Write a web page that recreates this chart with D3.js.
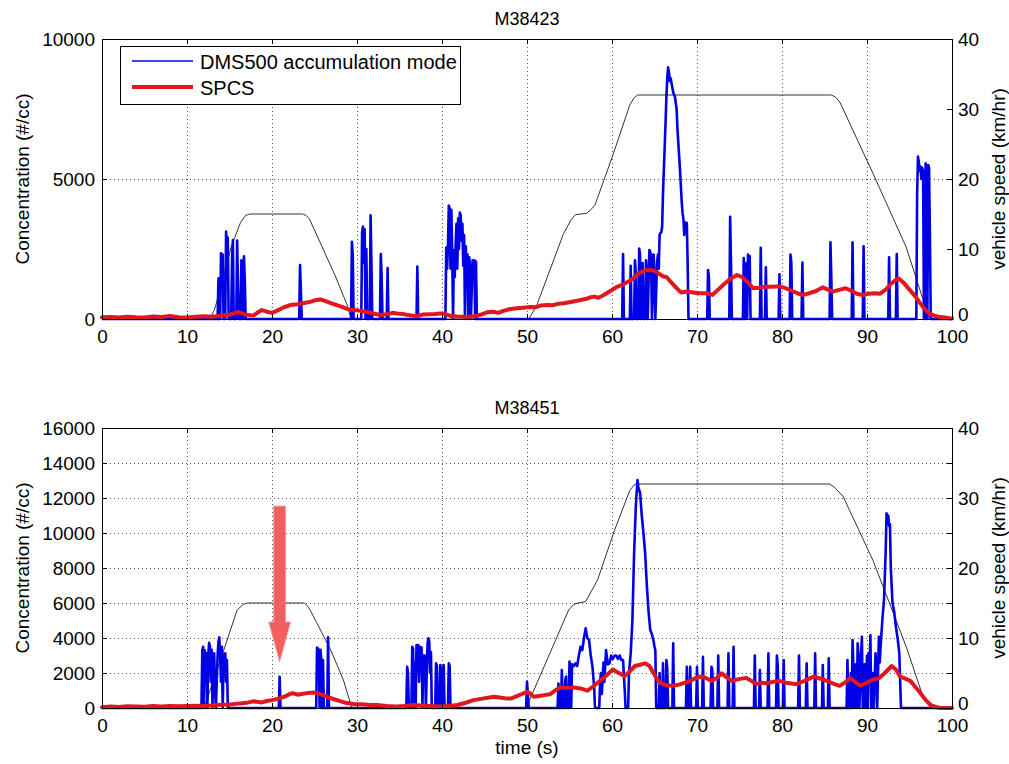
<!DOCTYPE html>
<html>
<head>
<meta charset="utf-8">
<script src="https://cdn.jsdelivr.net/npm/d3@7/dist/d3.min.js"></script>
<style>
  html, body { margin: 0; padding: 0; background: #fff; }
  svg { display: block; }
</style>
</head>
<body>
<script>
// ---------------- DATA ----------------
const titles = ["M38423", "M38451"];
const legendLabels = ["DMS500 accumulation mode", "SPCS"];
const xTicks = [0, 10, 20, 30, 40, 50, 60, 70, 80, 90, 100];
const topLeftTicks = [0, 5000, 10000];
const bottomLeftTicks = [0, 2000, 4000, 6000, 8000, 10000, 12000, 14000, 16000];
const rightTicks = [0, 10, 20, 30, 40];

// [time (s), concentration (#/cc)]
const dmsTop = [
[0,0],[13.6,0],[13.7,1450],[13.8,0],[13.9,0],[14.0,2350],[14.1,1600],[14.2,2300],[14.3,0],[14.5,0],[14.6,3120],[14.7,2550],[14.8,2900],[14.9,0],[15.2,0],[15.3,2200],[15.4,2820],[15.5,0],[15.8,0],[15.9,2800],[16.0,1200],[16.1,0],[16.3,0],[16.4,2100],[16.5,0],[16.6,0],[16.7,2240],[16.8,1400],[16.9,0],
[23.2,0],[23.3,1930],[23.4,1000],[23.5,0],
[29.3,0],[29.4,2760],[29.5,2300],[29.6,0],
[30.5,0],[30.6,3100],[30.7,3300],[30.8,2000],[30.9,3200],[31.0,0],[31.1,2500],[31.2,0],[31.5,0],[31.6,3700],[31.7,2000],[31.8,0],[32.7,0],[32.8,2320],[32.9,1500],[33.0,0],[33.5,0],[33.6,1820],[33.7,0],
[37.0,0],[37.1,1870],[37.2,0],
[40.4,0],[40.5,2550],[40.6,1800],[40.7,2600],[40.8,4050],[40.9,3950],[41.0,1800],[41.1,3900],[41.2,2400],[41.3,0],[41.4,2450],[41.5,1500],[41.6,2600],[41.7,3400],[41.8,1800],[41.9,3600],[42.0,2500],[42.1,3800],[42.2,3700],[42.3,2800],[42.4,3400],[42.5,1900],[42.6,3000],[42.7,0],[42.8,2600],[42.9,1500],[43.0,2300],[43.1,0],[43.2,2200],[43.3,1900],[43.4,0],[43.6,2100],[43.7,1600],[43.8,2100],[43.9,0],[44.0,2050],[44.1,0],
[61.2,0],[61.3,2320],[61.4,0],[62.1,0],[62.2,1900],[62.3,0],[62.6,0],[62.7,2100],[62.8,1600],[62.9,0],[63.1,0],[63.2,2520],[63.3,2300],[63.4,0],[63.6,2000],[63.7,0],[63.9,0],[64.0,2100],[64.1,1700],[64.2,0],[64.4,2460],[64.5,2400],[64.6,2300],[64.7,0],[64.9,2300],[65.0,1500],[65.1,0],[65.3,2000],[65.4,2300],[65.5,1800],[65.6,3000],[65.7,3070],[65.8,3100],[65.9,3300],[66.0,4500],[66.2,6150],[66.3,7000],[66.4,7940],[66.5,8600],[66.6,8990],[66.7,8800],[66.8,8500],[66.9,8600],[67.0,8430],[67.2,8100],[67.4,7940],[67.6,7500],[67.7,6800],[67.8,6300],[68.0,5320],[68.2,4200],[68.3,3780],[68.4,3600],[68.5,3000],[68.6,3450],[68.8,3430],[68.9,2000],[69.0,0],
[71.2,0],[71.3,1750],[71.4,1500],[71.5,0],
[73.8,0],[73.9,3650],[74.0,2000],[74.1,0],
[75.4,0],[75.5,2180],[75.6,0],[75.8,2000],[75.9,0],[76.0,2300],[76.1,1800],[76.2,2250],[76.3,0],
[77.4,0],[77.5,2540],[77.6,0],[78.0,0],[78.1,1850],[78.2,0],
[79.6,0],[79.7,1600],[79.8,0],
[80.9,0],[81.0,2300],[81.1,2000],[81.2,0],
[82.3,0],[82.4,2020],[82.5,0],
[85.6,0],[85.7,2740],[85.8,1500],[85.9,0],
[88.2,0],[88.3,2740],[88.4,0],
[89.5,0],[89.6,2600],[89.7,0],
[92.5,0],[92.6,2200],[92.7,0],
[93.4,0],[93.5,2320],[93.6,0],
[95.8,0],[95.9,4500],[96.0,5800],[96.1,5600],[96.2,5300],[96.3,5450],[96.4,5000],[96.5,5400],[96.6,5300],[96.7,0],[96.8,0],[96.9,5560],[97.0,5300],[97.1,0],[97.2,5500],[97.3,5400],[97.4,3000],[97.5,0],[100,0]
];

const spcsTop = [
[0,60],[1,70],[2,50],[3,80],[4,60],[5,50],[6,90],[7,70],[8,110],[9,60],[10,50],[11,80],[12,100],[13,80],[14,120],[15,150],[16,250],[16.5,200],[17,150],[17.8,120],[18.4,250],[18.8,320],[19.4,260],[20,220],[20.6,300],[21.4,420],[22.2,500],[23,530],[23.8,570],[24.6,620],[25.2,680],[25.7,700],[26.3,640],[27,560],[27.6,500],[28.3,420],[29,340],[29.6,320],[30.2,300],[30.8,270],[31.5,230],[32.2,180],[32.8,140],[33.5,170],[34.2,220],[34.7,200],[35.4,180],[36,140],[36.6,120],[37.1,100],[37.8,160],[38.5,170],[39.2,180],[39.8,200],[40.5,160],[41,110],[41.8,90],[42.5,80],[43.4,80],[44,110],[44.6,160],[45.3,240],[46,260],[46.6,220],[47.3,300],[48.1,360],[48.8,380],[49.5,400],[50.4,430],[51,420],[51.6,480],[52.4,500],[53,490],[53.6,540],[54.3,560],[55,600],[55.7,640],[56.3,680],[57,720],[57.5,780],[57.9,800],[58.4,760],[59,850],[59.8,1000],[60.6,1150],[61.4,1250],[62,1350],[62.5,1450],[63,1600],[63.6,1700],[64.1,1750],[64.8,1740],[65.4,1650],[66,1520],[66.4,1500],[67,1300],[67.6,1100],[68.1,950],[68.8,980],[69.5,950],[70.3,920],[71.2,920],[71.8,860],[72.5,1050],[73.2,1250],[74,1450],[74.7,1570],[75.3,1500],[76,1300],[76.6,1100],[77.3,1120],[78,1150],[78.8,1150],[79.7,1170],[80.4,1100],[81.2,1000],[82,900],[82.5,860],[83.2,920],[84,1000],[84.8,1130],[85.4,1050],[86,980],[86.8,1050],[87.5,1100],[88.2,1000],[88.8,900],[89.5,860],[90.2,900],[90.9,920],[91.5,900],[92.2,1050],[92.8,1250],[93.4,1400],[93.7,1450],[94.3,1300],[95,1050],[95.7,800],[96.3,550],[96.8,350],[97.3,200],[97.9,120],[98.4,80],[99,60],[99.7,30],[100,20]
];

// [time (s), vehicle speed (km/hr)]
const speedTop = [
[0,0],[12.6,0],[13.2,1.2],[13.8,3.7],[15.2,10.3],[16.3,13.8],[16.9,14.8],[17.4,15],[23.6,15],[24.0,14.8],[24.4,14.3],[25.9,10.3],[27.5,6.0],[28.9,1.8],[29.3,0],[50.2,0],[51.1,1.8],[54.3,12.2],[55.2,14.2],[55.7,14.9],[57.0,15.1],[57.5,15.6],[58.0,16.3],[60.1,23.4],[62.1,30.6],[62.6,31.6],[63.0,32],[85.8,32],[86.3,31.7],[86.8,31.0],[90.7,20.8],[94.6,10.3],[97.2,0.5],[97.4,0],[100,0]
];

const dmsBottom = [
[0,0],[11.7,0],[11.8,3300],[11.9,3500],[12.0,0],[12.1,3300],[12.2,2000],[12.3,3120],[12.4,0],[12.5,3000],[12.6,3730],[12.7,3500],[12.8,1500],[12.9,3330],[13.0,0],[13.1,2800],[13.2,3120],[13.3,1000],[13.4,0],[13.6,3000],[13.7,3800],[13.8,4040],[13.9,3000],[14.0,1500],[14.1,3500],[14.2,0],[14.3,2600],[14.4,3100],[14.5,3120],[14.6,1500],[14.7,2740],[14.8,0],
[20.8,0],[20.9,1790],[21.0,0],
[25.2,0],[25.3,3450],[25.4,3400],[25.5,3330],[25.6,0],[25.7,3330],[25.8,2740],[25.9,0],[26.0,2740],[26.1,0],[26.5,0],[26.6,4040],[26.7,0],
[35.8,0],[35.9,2360],[36.0,2000],[36.1,0],[36.4,0],[36.5,3500],[36.6,3400],[36.7,0],[36.8,2600],[36.9,0],[37.0,3600],[37.1,3500],[37.2,3600],[37.3,1500],[37.4,3500],[37.5,2400],[37.6,3450],[37.7,0],[37.8,3000],[37.9,2400],[38.0,3000],[38.1,0],[38.3,3700],[38.4,3980],[38.5,3800],[38.6,2000],[38.7,3200],[38.8,0],[39.2,0],[39.3,2550],[39.4,2400],[39.5,0],[39.7,0],[39.8,2460],[39.9,2300],[40.0,0],[40.2,2460],[40.3,0],[40.7,0],[40.8,2550],[40.9,2400],[41.0,0],
[49.9,0],[50.0,1500],[50.1,800],[50.2,0],
[53.6,0],[53.7,1400],[53.8,0],[54.0,0],[54.1,2170],[54.2,0],[54.4,0],[54.5,1600],[54.6,1800],[54.7,0],[54.9,0],[55.0,2650],[55.1,2400],[55.2,0],[55.3,2500],[55.5,2400],[55.7,2550],[55.9,2400],[56.1,3000],[56.3,3500],[56.5,3300],[56.7,4000],[56.9,4550],[57.1,4000],[57.3,3880],[57.5,3000],[57.7,2360],[57.9,1200],[58.0,0],[58.5,0],[58.6,1500],[58.7,2000],[58.8,800],[59.0,2600],[59.1,1500],[59.3,3310],[59.5,2500],[59.7,2550],[59.9,3000],[60.1,2800],[60.3,3000],[60.5,3000],[60.7,2800],[60.9,3000],[61.1,2740],[61.3,2740],[61.5,1000],[61.6,0],[61.9,0],[62.0,2000],[62.2,3120],[62.4,5000],[62.6,8840],[62.8,11500],[63.0,13030],[63.1,12600],[63.3,12300],[63.5,11000],[63.7,10000],[63.9,8840],[64.1,7000],[64.3,5500],[64.5,4460],[64.7,4200],[64.9,3800],[65.0,3500],[65.1,3300],[65.2,0],
[65.5,0],[65.6,2000],[65.7,0],[65.9,0],[66.0,2550],[66.1,0],[66.3,0],[66.4,2740],[66.5,2300],[66.6,0],[67.1,0],[67.2,3700],[67.3,0],
[68.7,0],[68.8,2360],[68.9,0],[69.1,0],[69.2,2360],[69.3,0],[69.9,0],[70.0,2360],[70.1,0],[70.6,0],[70.7,2920],[70.8,0],[71.6,0],[71.7,2360],[71.8,2200],[71.9,0],[72.4,0],[72.5,3000],[72.6,0],[73.6,0],[73.7,3120],[73.8,0],[74.2,0],[74.3,3500],[74.4,0],
[76.7,0],[76.8,3000],[76.9,0],[77.3,0],[77.4,2170],[77.5,0],[78.3,0],[78.4,3120],[78.5,0],[79.3,0],[79.4,3000],[79.5,2400],[79.6,0],[80.1,0],[80.2,2740],[80.3,0],
[81.9,0],[82.0,3000],[82.1,0],[82.8,0],[82.9,2550],[83.0,0],[83.8,0],[83.9,3120],[84.0,0],[84.7,0],[84.8,2460],[84.9,0],[85.4,0],[85.5,2840],[85.6,0],
[87.6,0],[87.7,2740],[87.8,0],[88.0,0],[88.1,2000],[88.2,0],[88.3,3880],[88.4,2400],[88.5,0],[88.7,2500],[88.8,0],[88.9,3700],[89.0,3000],[89.1,0],[89.3,3000],[89.4,4070],[89.5,0],[89.7,2500],[89.8,0],[90.0,3000],[90.1,0],[90.2,3120],[90.3,2000],[90.4,4160],[90.5,0],[90.7,2000],[90.8,0],[91.0,3120],[91.1,2500],[91.2,0],[91.4,4070],[91.5,2600],[91.6,3500],[91.8,5000],[92.0,6170],[92.2,9000],[92.3,11120],[92.4,10800],[92.5,11000],[92.6,10400],[92.7,10500],[92.8,8000],[93.0,6000],[93.2,5500],[93.4,4650],[93.6,4000],[93.8,3120],[93.9,1500],[94.0,0],[100,0]
];

const spcsBottom = [
[0,50],[1,80],[2,60],[3,100],[4,90],[5,70],[6,110],[7,90],[8,120],[9,100],[10,110],[11,130],[12,120],[13,150],[14,180],[15,200],[16,250],[16.5,270],[17.2,320],[17.8,380],[18.2,360],[18.8,320],[19.4,400],[20,450],[20.9,550],[21.6,680],[22.2,820],[22.5,840],[23,760],[23.5,800],[24.1,850],[24.9,880],[25.5,820],[26.1,720],[26.5,640],[27.3,500],[28.1,380],[28.8,280],[29.6,230],[30.4,220],[31,200],[31.5,170],[32.4,170],[33.5,120],[34.7,90],[35.5,110],[36.7,170],[37.5,150],[38.5,120],[39.8,80],[40.8,120],[41.8,170],[42.8,300],[43.7,450],[44.6,520],[45.4,580],[46.1,640],[46.8,600],[47.4,560],[48.1,540],[48.8,680],[49.4,800],[50.0,920],[50.4,820],[50.8,640],[51.6,700],[52.2,750],[52.7,780],[53.3,1000],[53.9,1170],[54.6,1150],[55.5,1170],[56.3,1120],[57.1,990],[57.7,1200],[58.3,1440],[59.2,1800],[60.1,2200],[60.8,2000],[61.5,1820],[62.1,2100],[62.7,2400],[63.3,2470],[63.9,2550],[64.4,2400],[65,1900],[65.6,1440],[66.4,1300],[67.2,1270],[68,1350],[68.6,1450],[69.2,1550],[69.8,1700],[70.5,1800],[71.1,1700],[71.7,1550],[72.3,1700],[72.9,1980],[73.5,1750],[74.1,1550],[74.9,1650],[75.8,1720],[76.4,1550],[77,1360],[77.6,1450],[78.3,1420],[79,1500],[79.7,1550],[80.4,1450],[81.1,1400],[81.7,1360],[82.4,1500],[83.1,1650],[83.7,1800],[84.4,1700],[85.2,1560],[86,1400],[86.8,1270],[87.4,1450],[88,1720],[88.6,1500],[89.2,1270],[90,1450],[90.7,1620],[91.4,1700],[92.1,2000],[92.9,2400],[93.4,2200],[93.9,1800],[94.3,1720],[95.1,1550],[95.7,1200],[96.3,840],[96.9,450],[97.5,170],[98.1,60],[98.7,0],[100,0]
];

const speedBottom = [
[0,0],[12.0,0],[14.2,7.8],[15.9,14],[16.6,14.8],[17.1,15],[23.8,15],[24.3,14.4],[25.3,12.1],[26.9,8.3],[28.4,4.0],[29.4,0],[50.0,0],[50.4,1.4],[54.9,14],[55.5,14.8],[56.0,15],[56.9,15.2],[58.3,18.3],[60.3,25.4],[62.1,31.1],[62.7,32],[85.6,32],[86.2,31.5],[87.2,30.2],[90.7,21.1],[94.6,8.8],[96.6,1.6],[97.5,0],[100,0]
];

// annotation arrow in the lower panel: [time, from concentration, to concentration]
const arrowAnno = [20.9, 11540, 2630];

// ---------------- DRAWING ----------------
const W = 1009, H = 764;
const FONT = "'Liberation Sans', Arial, Helvetica, sans-serif";
const svg = d3.select("body").append("svg").attr("width", W).attr("height", H)
  .style("font-family", FONT);
svg.append("rect").attr("width", W).attr("height", H).attr("fill", "#fff");

const xScale = d3.scaleLinear().domain([0, 100]).range([102, 952]);

function panel(o) {
  const x = xScale;
  const yL = d3.scaleLinear().domain([0, o.lmax]).range([o.bottom, o.top]);
  const yR = d3.scaleLinear().domain([0, 40]).range([o.bottom, o.top]);
  const g = svg.append("g");

  // grid
  g.append("g").selectAll("line").data(xTicks.filter(v => v > 0 && v < 100)).join("line")
    .attr("x1", d => Math.round(x(d)) + 0.5).attr("x2", d => Math.round(x(d)) + 0.5)
    .attr("y1", o.top).attr("y2", o.bottom)
    .attr("stroke", "#555").attr("stroke-width", 1).attr("stroke-dasharray", "1,3");
  g.append("g").selectAll("line").data(o.lticks.filter(v => v > 0 && v < o.lmax)).join("line")
    .attr("y1", d => Math.round(yL(d)) + 0.5).attr("y2", d => Math.round(yL(d)) + 0.5)
    .attr("x1", x(0)).attr("x2", x(100))
    .attr("stroke", "#555").attr("stroke-width", 1).attr("stroke-dasharray", "1,3");

  // series
  const lineL = d3.line().x(d => x(d[0])).y(d => yL(d[1]));
  const lineR = d3.line().x(d => x(d[0])).y(d => yR(d[1]));
  g.append("path").datum(o.speed).attr("d", lineR)
    .attr("fill", "none").attr("stroke", "#333").attr("stroke-width", 1);
  g.append("path").datum(o.dms).attr("d", lineL)
    .attr("fill", "none").attr("stroke", "#0000e6").attr("stroke-width", 2.6)
    .attr("stroke-linejoin", "round");
  g.append("path").datum(o.spcs).attr("d", lineL)
    .attr("fill", "none").attr("stroke", "#e0181d").attr("stroke-width", 4)
    .attr("stroke-linejoin", "round").attr("stroke-linecap", "round");

  // axes
  const styleAxis = (sel) => {
    sel.selectAll("path.domain").attr("stroke", "#000");
    sel.selectAll(".tick line").attr("stroke", "#000");
    sel.selectAll("text").attr("font-size", 19).attr("font-family", FONT).attr("fill", "#000");
  };
  g.append("g").attr("transform", `translate(0,${o.bottom})`)
    .call(d3.axisBottom(x).tickValues(xTicks).tickSizeInner(-5).tickSizeOuter(0).tickPadding(11).tickFormat(d3.format("d")))
    .call(styleAxis);
  g.append("g").attr("transform", `translate(0,${o.top})`)
    .call(d3.axisTop(x).tickValues(xTicks).tickSizeInner(-5).tickSizeOuter(0).tickFormat(""))
    .call(styleAxis);
  g.append("g").attr("transform", `translate(${x(0)},0)`)
    .call(d3.axisLeft(yL).tickValues(o.lticks).tickSizeInner(-5).tickSizeOuter(0).tickPadding(7).tickFormat(d3.format("d")))
    .call(styleAxis);
  g.append("g").attr("transform", `translate(${x(100)},0)`)
    .call(d3.axisRight(yL).tickValues(o.lticks).tickSizeInner(-5).tickSizeOuter(0).tickFormat(""))
    .call(styleAxis);
  const rAx = g.append("g").attr("transform", `translate(${x(100)},0)`)
    .call(d3.axisRight(yR).tickValues(rightTicks).tickSizeInner(-5).tickSizeOuter(0).tickPadding(6).tickFormat(d3.format("d")))
    .call(styleAxis);
  // the lowest right label sits just above the x label "100", as in the original
  rAx.selectAll(".tick").filter(d => d === 0).select("text").attr("dy", "0.1em");

  // title
  g.append("text").attr("x", (x(0) + x(100)) / 2).attr("y", o.top - 14)
    .attr("text-anchor", "middle").attr("font-size", 18).text(o.title);

  // y labels
  const cy = (o.top + o.bottom) / 2;
  g.append("text").attr("transform", `translate(29,${cy}) rotate(-90)`)
    .attr("text-anchor", "middle").attr("font-size", 19).text("Concentration (#/cc)");
  g.append("text").attr("transform", `translate(1005,${cy}) rotate(-90)`)
    .attr("text-anchor", "middle").attr("font-size", 19).text("vehicle speed (km/hr)");

  return { yL, yR, g };
}

const topPanel = panel({ top: 39, bottom: 319, lmax: 10000, lticks: topLeftTicks,
  dms: dmsTop, spcs: spcsTop, speed: speedTop, title: titles[0] });
const bottomPanel = panel({ top: 428, bottom: 708, lmax: 16000, lticks: bottomLeftTicks,
  dms: dmsBottom, spcs: spcsBottom, speed: speedBottom, title: titles[1] });

// x label
svg.append("text").attr("x", (xScale(0) + xScale(100)) / 2).attr("y", 754)
  .attr("text-anchor", "middle").attr("font-size", 19).text("time (s)");

// legend
const lg = svg.append("g");
lg.append("rect").attr("x", 120.5).attr("y", 46.5).attr("width", 340).attr("height", 58)
  .attr("fill", "#fff").attr("stroke", "#000").attr("stroke-width", 1);
lg.append("line").attr("x1", 132).attr("x2", 193).attr("y1", 61).attr("y2", 61)
  .attr("stroke", "#0000e6").attr("stroke-width", 1.6);
lg.append("line").attr("x1", 132).attr("x2", 193).attr("y1", 87).attr("y2", 87)
  .attr("stroke", "#e0181d").attr("stroke-width", 4);
lg.append("text").attr("x", 200).attr("y", 69).attr("font-size", 20).text(legendLabels[0]);
lg.append("text").attr("x", 200).attr("y", 95).attr("font-size", 20).text(legendLabels[1]);

// arrow annotation
const ax = xScale(arrowAnno[0]);
const ay0 = bottomPanel.yL(arrowAnno[1]);
const ay1 = bottomPanel.yL(arrowAnno[2]);
const headLen = 40, shaftHalf = 6, headHalf = 11;
const arrowPts = [
  [ax - shaftHalf, ay0], [ax + shaftHalf, ay0], [ax + shaftHalf, ay1 - headLen],
  [ax + headHalf, ay1 - headLen], [ax, ay1], [ax - headHalf, ay1 - headLen],
  [ax - shaftHalf, ay1 - headLen]
];
svg.append("path").attr("d", d3.line()(arrowPts) + "Z")
  .attr("fill", "#f25f5f").attr("stroke", "#f7a3a3").attr("stroke-width", 0.8);
</script>
</body>
</html>
